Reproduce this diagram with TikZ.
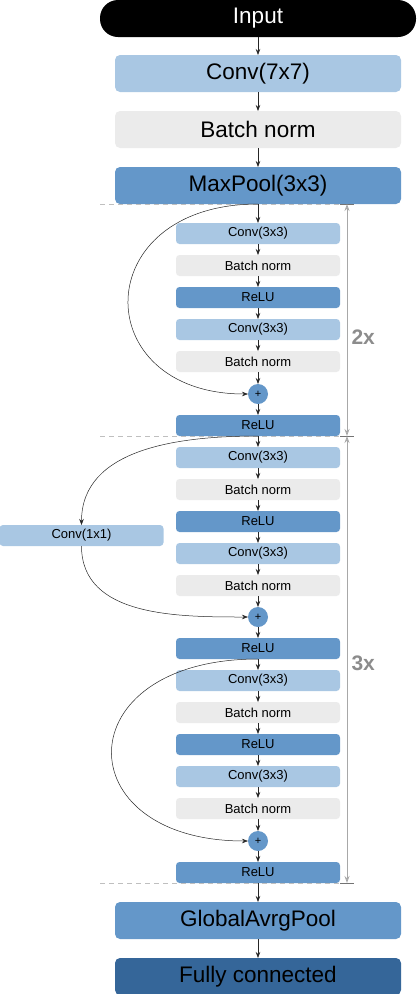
\documentclass[tikz,border=0pt]{standalone}
\usepackage{fontspec}
\setmainfont{Liberation Sans}
\usetikzlibrary{arrows.meta, positioning, calc}

\definecolor{convblue}{HTML}{A9C7E3}
\definecolor{normgray}{HTML}{EBEBEB}
\definecolor{relublue}{HTML}{6497C9}
\definecolor{fcblue}{HTML}{356699}
\definecolor{dimgray}{HTML}{A8A8A8}
\definecolor{labelgray}{HTML}{8C8C8C}

\tikzset{
  big/.style={rounded corners=5pt, minimum width=286pt, minimum height=37pt,
    inner sep=0pt, outer sep=0pt, font=\fontsize{22.5}{24}\selectfont},
  small/.style={rounded corners=3.5pt, minimum width=164pt, minimum height=21pt,
    inner sep=0pt, outer sep=0pt, font=\fontsize{13}{14}\selectfont},
  conv/.style={fill=convblue},
  norm/.style={fill=normgray},
  relu/.style={fill=relublue},
  sum/.style={circle, fill=relublue, minimum size=20pt, inner sep=0pt, outer sep=0pt,
    font=\fontsize{11}{11}\selectfont},
  flow/.style={draw=black!85, line width=0.7pt},
  sep/.style={draw=black!25, dashed, dash pattern=on 5pt off 4pt, line width=0.8pt},
  dim/.style={draw=dimgray, line width=0.8pt,
    {Stealth[length=7pt, width=5pt, open]}-{Stealth[length=7pt, width=5pt, open]}},
  tick/.style={draw=black!55, line width=0.9pt},
  times/.style={text=labelgray, font=\fontsize{21}{24}\selectfont\bfseries, anchor=west}
}

\begin{document}
\begin{tikzpicture}[x=1pt, y=-1pt, >={Stealth[length=6pt, width=4.5pt]}]
\useasboundingbox (0,0) rectangle (416,994);

\node[big, fill=black, text=white, rounded corners=18pt, minimum width=316pt] (input) at (258,18.5) {Input};
\node[big, conv, below = 18pt of input] (conv1) {Conv(7x7)};
\node[big, norm, below = 19pt of conv1] (bn1) {Batch norm};
\node[big, relu, below = 19pt of bn1] (pool) {MaxPool(3x3)};

% first block
\node[small, conv, below = 19pt of pool] (aconv1) {Conv(3x3)};
\node[small, norm, below = 11pt of aconv1] (abn1) {Batch norm};
\node[small, relu, below = 11pt of abn1] (arelu1) {ReLU};
\node[small, conv, below = 11pt of arelu1] (aconv2) {Conv(3x3)};
\node[small, norm, below = 11pt of aconv2] (abn2) {Batch norm};
\node[sum, below = 12pt of abn2] (aplus) {+};
\node[small, relu, below = 11pt of aplus] (arelu2) {ReLU};

% second block
\node[small, conv, below = 11pt of arelu2] (bconv1) {Conv(3x3)};
\node[small, norm, below = 11pt of bconv1] (bbn1) {Batch norm};
\node[small, relu, below = 11pt of bbn1] (brelu1) {ReLU};
\node[small, conv, below = 11pt of brelu1] (bconv2) {Conv(3x3)};
\node[small, norm, below = 11pt of bconv2] (bbn2) {Batch norm};
\node[sum, below = 11pt of bbn2] (bplus) {+};
\node[small, relu, below = 11pt of bplus] (brelu2) {ReLU};
\node[small, conv] (bskip) at (81.5,535.5) {Conv(1x1)};

% third block
\node[small, conv, below = 11pt of brelu2] (cconv1) {Conv(3x3)};
\node[small, norm, below = 11pt of cconv1] (cbn1) {Batch norm};
\node[small, relu, below = 11pt of cbn1] (crelu1) {ReLU};
\node[small, conv, below = 11pt of crelu1] (cconv2) {Conv(3x3)};
\node[small, norm, below = 11pt of cconv2] (cbn2) {Batch norm};
\node[sum, below = 12pt of cbn2] (cplus) {+};
\node[small, relu, below = 11pt of cplus] (crelu2) {ReLU};

\node[big, relu, below = 19pt of crelu2] (gap) {GlobalAvrgPool};
\node[big, fill=fcblue, below = 19pt of gap] (fc) {Fully connected};

% separators and repeat marks
\foreach \n in {pool, arelu2, crelu2} {
  \draw[sep] (\n.south -| 100,0) -- (\n.south -| 340,0);
  \draw[tick] (\n.south -| 340,0) -- (\n.south -| 354,0);
}
\coordinate (r1) at (pool.south -| 347,0);
\coordinate (r2) at (arelu2.south -| 347,0);
\coordinate (r3) at (crelu2.south -| 347,0);
\draw[dim] (r1) -- (r2);
\draw[dim] (r2) -- (r3);
\node[times] (two) at (348,337) {2x};
\node[times] (three) at (348,663) {3x};

% main flow
\foreach \a/\b in {input/conv1, conv1/bn1, bn1/pool, pool/aconv1,
    aconv1/abn1, abn1/arelu1, arelu1/aconv2, aconv2/abn2, abn2/aplus, aplus/arelu2,
    arelu2/bconv1, bconv1/bbn1, bbn1/brelu1, brelu1/bconv2, bconv2/bbn2, bbn2/bplus, bplus/brelu2,
    brelu2/cconv1, cconv1/cbn1, cbn1/crelu1, crelu1/cconv2, cconv2/cbn2, cbn2/cplus, cplus/crelu2,
    crelu2/gap, gap/fc}
  \draw[flow, ->] (\a) -- (\b);

% shortcuts
\draw[flow, ->, line width=0.5pt] (pool.south) .. controls +(-171,0) and +(-161,0) .. (aplus.west);
\draw[flow, ->, line width=0.5pt] (arelu2.south) to[out=180, in=90] (bskip.north);
\draw[flow, ->, line width=0.5pt] (bskip.south) to[out=-90, in=180] (bplus.west);
\draw[flow, ->, line width=0.5pt] (brelu2.south) .. controls +(-193,0) and +(-183,0) .. (cplus.west);

\end{tikzpicture}
\end{document}
